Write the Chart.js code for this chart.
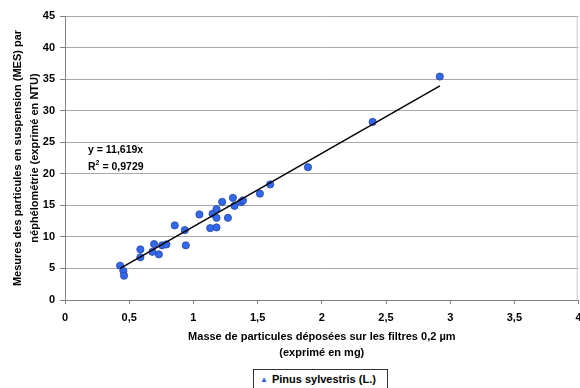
<!DOCTYPE html>
<html>
<head>
<meta charset="utf-8">
<script src="https://cdn.jsdelivr.net/npm/chart.js@4/dist/chart.umd.min.js"></script>
<style>
  html, body { margin: 0; padding: 0; background: #fff; overflow: hidden; }
  #wrap { position: relative; width: 580px; height: 388px; overflow: hidden; }
  canvas { position: absolute; left: 0; top: 0; }
  .eq { position: absolute; left: 88px; font: bold 10.5px "Liberation Sans", Arial, sans-serif; color: #000; white-space: nowrap; }
  #legend { position: absolute; left: 253px; top: 369px; width: 135px; height: 20px; border: 1px solid #333; box-sizing: border-box; background: #fff;
    font: bold 11px "Liberation Sans", Arial, sans-serif; color: #000; line-height: 18px; white-space: nowrap; }
  #legend .mk { color: #2f5fe0; font-size: 8px; margin-left: 6px; margin-right: 4px; vertical-align: 1px; }
</style>
</head>
<body>
<div id="wrap">
  <canvas id="c" width="583" height="388"></canvas>
  <div class="eq" style="top:143px">y = 11,619x</div>
  <div class="eq" style="top:160px">R<sup style="font-size:7px;vertical-align:5px;line-height:0">2</sup> = 0,9729</div>
  <div id="legend"><span class="mk">▲</span>Pinus sylvestris (L.)</div>
</div>
<script>
// Data
const seriesName = 'Pinus sylvestris (L.)';
const massX = [0.429, 0.455, 0.460, 0.587, 0.587, 0.681, 0.694, 0.731, 0.756, 0.790,
               0.855, 0.933, 0.941, 1.047, 1.131, 1.149, 1.180, 1.180, 1.180, 1.224,
               1.269, 1.308, 1.320, 1.372, 1.386, 1.518, 1.598, 1.892, 2.396, 2.919];
const mesY  = [5.43, 4.59, 3.85, 8.02, 6.76, 7.64, 8.86, 7.23, 8.66, 8.81,
               11.82, 11.08, 8.66, 13.56, 11.39, 13.66, 14.40, 13.02, 11.50, 15.55,
               13.02, 16.19, 14.92, 15.51, 15.78, 16.85, 18.32, 21.04, 28.21, 35.40];
const trendX = [0.43, 2.92];
const trendY = [5.00, 33.93];
const xTickLabels = ['0', '0,5', '1', '1,5', '2', '2,5', '3', '3,5', '4'];
const yTickLabels = ['0', '5', '10', '15', '20', '25', '30', '35', '40', '45'];
const xTitle = ['Masse de particules déposées sur les filtres 0,2 µm', '(exprimé en mg)'];
const yTitle = ['Mesures des particules en suspension (MES) par', 'néphélométrie (exprimé en NTU)'];

const points = massX.map((x, i) => ({ x: x, y: mesY[i] }));
const trend = trendX.map((x, i) => ({ x: x, y: trendY[i] }));

const FONT = '"Liberation Sans", Arial, sans-serif';

const areaBorder = {
  id: 'areaBorder',
  beforeDatasetsDraw(chart) {
    const { ctx, chartArea: a } = chart;
    ctx.save();
    ctx.strokeStyle = '#c8c8c8';
    ctx.lineWidth = 1;
    ctx.beginPath();
    ctx.moveTo(Math.min(a.right, 580) - 1.5, a.top);
    ctx.lineTo(Math.min(a.right, 580) - 1.5, a.bottom);
    ctx.stroke();
    ctx.restore();
  }
};

new Chart(document.getElementById('c'), {
  type: 'scatter',
  data: {
    datasets: [
      {
        label: seriesName,
        data: points,
        backgroundColor: '#3468ec',
        borderColor: '#23449f',
        borderWidth: 0.8,
        pointRadius: 3.6,
        pointHoverRadius: 3.6,
        order: 1
      },
      {
        label: 'trend',
        type: 'line',
        data: trend,
        borderColor: '#000',
        borderWidth: 1.5,
        pointRadius: 0,
        fill: false,
        order: 0
      }
    ]
  },
  options: {
    responsive: false,
    animation: false,
    events: [],
    layout: { padding: { left: 0, right: 0, top: 16, bottom: 0 } },
    plugins: { legend: { display: false }, tooltip: { enabled: false } },
    scales: {
      x: {
        type: 'linear', min: 0, max: 4,
        afterFit(s) { s.height = 88; s.paddingLeft = 0; s.paddingRight = 0; },
        ticks: {
          stepSize: 0.5, padding: 7, color: '#000', maxRotation: 0, autoSkip: false,
          font: { family: FONT, size: 11, weight: 'bold' },
          callback: (v, i) => xTickLabels[i]
        },
        grid: { drawOnChartArea: false, drawTicks: true, tickLength: 4, tickColor: '#808080' },
        border: { color: '#808080' },
        title: {
          display: true, text: xTitle, color: '#000',
          font: { family: FONT, size: 11, weight: 'bold', lineHeight: '16px' },
          padding: { top: 0, bottom: 27 }
        }
      },
      y: {
        type: 'linear', min: 0, max: 45,
        afterFit(s) { s.width = 65; s.paddingTop = 0; s.paddingBottom = 0; },
        ticks: {
          stepSize: 5, padding: 5, color: '#000',
          font: { family: FONT, size: 11, weight: 'bold' },
          callback: (v, i) => yTickLabels[i]
        },
        grid: { color: '#a8a8a8', tickLength: 5, tickColor: '#808080' },
        border: { color: '#808080' },
        title: {
          display: true, text: yTitle, color: '#000',
          font: { family: FONT, size: 11, weight: 'bold', lineHeight: '17px' },
          padding: { top: 9, bottom: 0 }
        }
      }
    }
  },
  plugins: [areaBorder]
});
</script>
</body>
</html>
